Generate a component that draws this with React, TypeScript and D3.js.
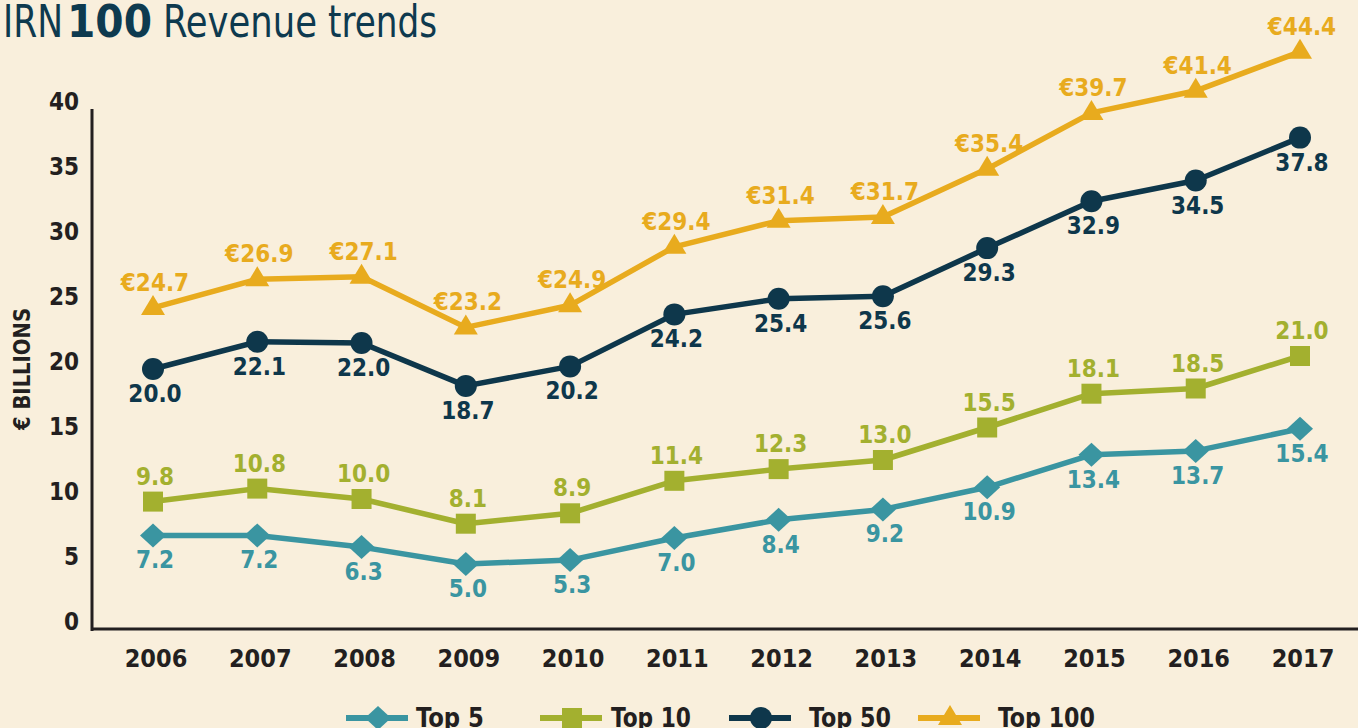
import React from "react";
import * as d3 from "d3";

const years = ["2006","2007","2008","2009","2010","2011","2012","2013","2014","2015","2016","2017"];
const top5 = [7.2, 7.2, 6.3, 5.0, 5.3, 7.0, 8.4, 9.2, 10.9, 13.4, 13.7, 15.4];
const top10 = [9.8, 10.8, 10.0, 8.1, 8.9, 11.4, 12.3, 13.0, 15.5, 18.1, 18.5, 21.0];
const top50 = [20.0, 22.1, 22.0, 18.7, 20.2, 24.2, 25.4, 25.6, 29.3, 32.9, 34.5, 37.8];
const top100 = [24.7, 26.9, 27.1, 23.2, 24.9, 29.4, 31.4, 31.7, 35.4, 39.7, 41.4, 44.4];
const yTicks = [0, 5, 10, 15, 20, 25, 30, 35, 40];
const seriesNames = ["Top 5", "Top 10", "Top 50", "Top 100"];

const W = 1358, H = 728;
const FONT = "'DejaVu Sans Condensed', 'Liberation Sans Narrow', sans-serif";
const BG = "#f9efdc";
const INK = "#231f20";
const TITLE = "#0e3a4f";

type Series = { name: string; values: number[]; color: string; marker: string; labelPos: "above" | "below"; prefix: string };

const series: Series[] = [
  { name: seriesNames[0], values: top5, color: "#3a95a1", marker: "diamond", labelPos: "below", prefix: "" },
  { name: seriesNames[1], values: top10, color: "#a3b02f", marker: "square", labelPos: "above", prefix: "" },
  { name: seriesNames[2], values: top50, color: "#0e374b", marker: "circle", labelPos: "below", prefix: "" },
  { name: seriesNames[3], values: top100, color: "#e8ab1e", marker: "triangle", labelPos: "above", prefix: "€" },
];

function Marker({ type, x, y, color }: { type: string; x: number; y: number; color: string }) {
  if (type === "circle") return <circle cx={x} cy={y} r={11} fill={color} />;
  if (type === "square") return <rect x={x - 10} y={y - 10} width={20} height={20} fill={color} />;
  if (type === "diamond")
    return <path d={`M${x},${y - 12}L${x + 13},${y}L${x},${y + 12}L${x - 13},${y}Z`} fill={color} />;
  return <path d={`M${x},${y - 13}L${x + 12},${y + 7}L${x - 12},${y + 7}Z`} fill={color} />;
}

export default function App() {
  const x = d3.scalePoint<string>().domain(years).range([153, 1300]);
  const y = d3.scaleLinear().domain([0, 40]).range([629, 109]);
  const line = d3.line<number>().x((_, i) => x(years[i]) as number).y((d) => y(d));

  const legendLineX = [346, 540, 729, 918];
  const legendTextX = [416, 611, 809, 998];
  const legendTextLen = [68, 80, 82, 97];

  return (
    <svg width={W} height={H} style={{ position: "absolute", left: 0, top: 0, background: BG }}>
      <rect x={0} y={0} width={W} height={H} fill={BG} />
      <text x={3} y={37} fontFamily={FONT} fontSize={44} fill={TITLE} textLength={60} lengthAdjust="spacingAndGlyphs">IRN</text>
      <text x={67} y={37} fontFamily={FONT} fontSize={44} fontWeight="bold" fill={TITLE} textLength={85} lengthAdjust="spacingAndGlyphs">100</text>
      <text x={163} y={37} fontFamily={FONT} fontSize={44} fill={TITLE} textLength={154} lengthAdjust="spacingAndGlyphs">Revenue</text>
      <text x={328} y={37} fontFamily={FONT} fontSize={44} fill={TITLE} textLength={109} lengthAdjust="spacingAndGlyphs">trends</text>

      {/* axes */}
      <line x1={92} x2={92} y1={109} y2={631} stroke={INK} strokeWidth={3} />
      <line x1={91} x2={W} y1={629} y2={629} stroke={INK} strokeWidth={3} />
      {yTicks.map((t) => (
        <text key={t} x={79} y={y(t) + 1} textAnchor="end" fontFamily={FONT} fontWeight="bold" fontSize={24} fill={INK}>
          {t}
        </text>
      ))}
      <text transform="translate(30,369) rotate(-90)" textAnchor="middle" fontFamily={FONT} fontWeight="bold" fontSize={23} fill={INK} textLength={122} lengthAdjust="spacingAndGlyphs">
        € BILLIONS
      </text>
      {years.map((yr) => (
        <text key={yr} x={(x(yr) as number) + 3} y={667} textAnchor="middle" fontFamily={FONT} fontWeight="bold" fontSize={25} fill={INK}>
          {yr}
        </text>
      ))}

      {series.map((s) => (
        <g key={s.name}>
          <path d={line(s.values) || ""} fill="none" stroke={s.color} strokeWidth={5.5} strokeLinejoin="round" />
          {s.values.map((v, i) => (
            <Marker key={i} type={s.marker} x={x(years[i]) as number} y={y(v)} color={s.color} />
          ))}
          {s.values.map((v, i) => (
            <text
              key={"l" + i}
              x={(x(years[i]) as number) + 2}
              y={s.labelPos === "above" ? y(v) - 17 : y(v) + 33}
              textAnchor="middle"
              fontFamily={FONT}
              fontWeight="bold"
              fontSize={24}
              fill={s.color}
            >
              {s.prefix + v.toFixed(1)}
            </text>
          ))}
        </g>
      ))}

      {/* legend */}
      {series.map((s, i) => (
        <g key={"lg" + s.name}>
          <line x1={legendLineX[i]} x2={legendLineX[i] + 62} y1={718} y2={718} stroke={s.color} strokeWidth={6} />
          <Marker type={s.marker} x={legendLineX[i] + 32} y={718} color={s.color} />
          <text x={legendTextX[i]} y={727} fontFamily={FONT} fontWeight="bold" fontSize={26} fill={INK} textLength={legendTextLen[i]} lengthAdjust="spacingAndGlyphs">
            {s.name}
          </text>
        </g>
      ))}
    </svg>
  );
}
